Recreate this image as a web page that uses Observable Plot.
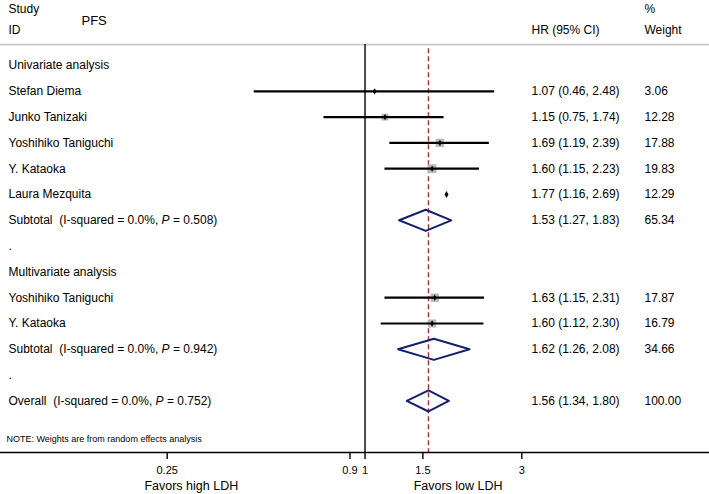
<!DOCTYPE html>
<html>
<head>
<meta charset="utf-8">
<script src="https://cdn.jsdelivr.net/npm/d3@7"></script>
<script src="https://cdn.jsdelivr.net/npm/@observablehq/plot@0.6"></script>
<style>
  html, body { margin: 0; padding: 0; background: #fff; }
  svg text { white-space: pre; }
</style>
</head>
<body>
<div id="chart"></div>
<script>
// ---- data ----
const rowLabels = [
  "Univariate analysis",
  "Stefan Diema",
  "Junko Tanizaki",
  "Yoshihiko Taniguchi",
  "Y. Kataoka",
  "Laura Mezquita",
  "Subtotal  (I-squared = 0.0%, P = 0.508)",
  ".",
  "Multivariate analysis",
  "Yoshihiko Taniguchi",
  "Y. Kataoka",
  "Subtotal  (I-squared = 0.0%, P = 0.942)",
  ".",
  "Overall  (I-squared = 0.0%, P = 0.752)"
];
const rowKind = ["group","study","study","study","study","study","subtotal","blank","group","study","study","subtotal","blank","overall"];
const hr     = [null, 1.07, 1.15, 1.69, 1.60, 1.77, 1.53, null, null, 1.63, 1.60, 1.62, null, 1.56];
const ciLow  = [null, 0.46, 0.75, 1.19, 1.15, 1.16, 1.27, null, null, 1.15, 1.12, 1.26, null, 1.34];
const ciHigh = [null, 2.48, 1.74, 2.39, 2.23, 2.69, 1.83, null, null, 2.31, 2.30, 2.08, null, 1.80];
const weight = [null, 3.06, 12.28, 17.88, 19.83, 12.29, 65.34, null, null, 17.87, 16.79, 34.66, null, 100.00];
// the reference shows no CI bar / weight box for this row
const hiddenBarRows = [5];
const xTicks = [0.25, 0.9, 1, 1.5, 3];
const favorLabels = ["Favors high LDH", "Favors low LDH"];
const favorX = [0.296, 1.92];
const noteText = "NOTE: Weights are from random effects analysis";
const studyHeader = ["Study", "ID"];
const outcomeTitle = "PFS";
const hrHeader = "HR (95% CI)";
const weightHeader = ["%", "Weight"];

// ---- build table ----
const rows = rowLabels.map((label, i) => ({
  i, label, kind: rowKind[i], hr: hr[i], lo: ciLow[i], hi: ciHigh[i], w: weight[i],
  hrText: hr[i] == null ? "" : `${hr[i].toFixed(2)} (${ciLow[i].toFixed(2)}, ${ciHigh[i].toFixed(2)})`,
  wText: weight[i] == null ? "" : weight[i].toFixed(2)
}));
const studies = rows.filter(d => d.kind === "study");
const barred = studies.filter(d => !hiddenBarRows.includes(d.i));
const pooled = rows.filter(d => d.kind === "subtotal" || d.kind === "overall");
const overall = rows.find(d => d.kind === "overall");
const h = 0.41; // diamond half-height in row units
const diamonds = pooled.flatMap(d => [
  {id: d.i, x: d.lo, y: d.i},
  {id: d.i, x: d.hr, y: d.i - h},
  {id: d.i, x: d.hi, y: d.i},
  {id: d.i, x: d.hr, y: d.i + h},
  {id: d.i, x: d.lo, y: d.i}
]);
const hdrY = [-2.2, -1.38];

const W = 709, H = 494;
const plot = Plot.plot({
  width: W, height: H,
  marginLeft: 0, marginRight: 0, marginTop: 0, marginBottom: 42,
  style: {fontFamily: "'Liberation Sans', Arial, sans-serif", fontSize: "12px", background: "#fff", color: "#000"},
  x: {type: "log", domain: [0.25, 3], range: [166.7, 521.3]},
  y: {domain: [0, 15], range: [65, 452]},
  r: {domain: [0, 20], range: [0, 5.0]},
  marks: [
    // header separator
    Plot.ruleY([-0.81], {stroke: "#c8c8c8", strokeWidth: 1.6}),
    // null line
    Plot.ruleX([1], {y1: -0.81, y2: 15, stroke: "#000", strokeWidth: 1.4}),
    // overall estimate dashed line
    Plot.ruleX([overall], {x: "hr", y1: -0.65, y2: 15, stroke: "#a3323a", strokeWidth: 1.4, strokeDasharray: "5,3"}),
    // weight boxes
    Plot.dot(barred, {x: "hr", y: "i", r: "w", symbol: "square", fill: "#b9b9b9", stroke: "none"}),
    // CI bars
    Plot.ruleY(barred, {y: "i", x1: "lo", x2: "hi", stroke: "#000", strokeWidth: 2.2}),
    // point estimates
    Plot.dot(studies, {x: "hr", y: "i", r: d => d.i === 5 ? 3.4 : 2.9, symbol: "diamond", fill: "#000", stroke: "none"}),
    // pooled diamonds
    Plot.line(diamonds, {x: "x", y: "y", z: "id", stroke: "#14206e", strokeWidth: 2, curve: "linear"}),
    // row labels
    Plot.text(rows, {y: "i", text: "label", frameAnchor: "left", dx: 8, textAnchor: "start", fontSize: 12}),
    Plot.text(rows, {y: "i", text: "hrText", frameAnchor: "left", dx: 531, textAnchor: "start", fontSize: 12}),
    Plot.text(rows, {y: "i", text: "wText", frameAnchor: "left", dx: 644, textAnchor: "start", fontSize: 12}),
    // header
    Plot.text(studyHeader, {y: hdrY, text: d => d, frameAnchor: "left", dx: 8, textAnchor: "start", fontSize: 12}),
    Plot.text([outcomeTitle], {y: [-1.72], text: d => d, frameAnchor: "left", dx: 81, textAnchor: "start", fontSize: 13}),
    Plot.text([hrHeader], {y: [hdrY[1]], text: d => d, frameAnchor: "left", dx: 531, textAnchor: "start", fontSize: 12}),
    Plot.text(weightHeader, {y: hdrY, text: d => d, frameAnchor: "left", dx: 644, textAnchor: "start", fontSize: 12}),
    // note
    Plot.text([noteText], {y: [14.5], text: d => d, frameAnchor: "left", dx: 6, textAnchor: "start", fontSize: 9}),
    // axis
    Plot.frame({anchor: "bottom", stroke: "#000", strokeWidth: 1.6}),
    Plot.axisX({ticks: xTicks, tickFormat: d => String(d), tickSize: 7, tickPadding: 7, fontSize: 11, strokeWidth: 1.4, anchor: "bottom"}),
    Plot.text(favorLabels, {x: favorX, y: favorX.map(() => 16.3), text: d => d, fontSize: 12.5, textAnchor: "middle"})
  ]
});

// make the "P" in heterogeneity labels italic
d3.select(plot).selectAll("text").each(function() {
  const s = this.textContent;
  const k = s.indexOf(", P = ");
  if (k >= 0 && this.children.length === 0) {
    const sel = d3.select(this);
    sel.text(null);
    sel.append("tspan").text(s.slice(0, k + 2));
    sel.append("tspan").attr("font-style", "italic").text("P");
    sel.append("tspan").text(s.slice(k + 3));
  }
});

document.getElementById("chart").appendChild(plot);
</script>
</body>
</html>
